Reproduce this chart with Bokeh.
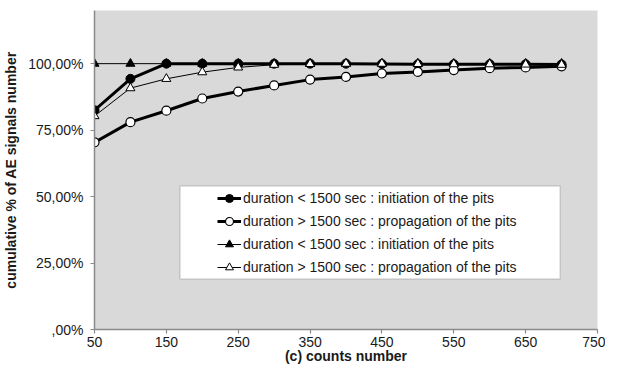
from bokeh.plotting import figure
from bokeh.models import Range1d, FixedTicker, Legend, LegendItem, BoxAnnotation
from bokeh.embed import file_html
from bokeh.resources import INLINE

counts = [50, 100, 150, 200, 250, 300, 350, 400, 450, 500, 550, 600, 650, 700]
init_circle = [0.825, 0.943, 1.0, 1.0, 1.0, 1.0, 1.0, 1.0, 0.999, 0.998, 0.998, 0.998, 0.998, 0.997]
prop_circle = [0.704, 0.780, 0.823, 0.869, 0.895, 0.918, 0.940, 0.950, 0.963, 0.969, 0.976, 0.983, 0.986, 0.990]
init_tri = [1.0, 1.0, 1.0, 1.0, 1.0, 1.0, 1.0, 1.0, 1.0, 1.0, 1.0, 1.0, 1.0, 1.0]
prop_tri = [0.803, 0.908, 0.943, 0.968, 0.986, 0.996, 0.999, 1.0, 1.0, 0.999, 0.998, 0.998, 0.997, 0.996]

labels = [
    "duration < 1500 sec : initiation of the pits",
    "duration > 1500 sec : propagation of the pits",
    "duration < 1500 sec : initiation of the pits",
    "duration > 1500 sec : propagation of the pits",
]

x_ticks = [50, 150, 250, 350, 450, 550, 650, 750]
y_ticks = [0, 0.25, 0.5, 0.75, 1.0]
y_tick_labels = [",00%", "25,00%", "50,00%", "75,00%", "100,00%"]

FONT = "Liberation Sans"

p = figure(width=605, height=366, output_backend="svg", toolbar_location=None,
           x_range=Range1d(50, 750), y_range=Range1d(0, 1.2),
           min_border_left=94, min_border_right=8, min_border_top=10, min_border_bottom=36)

p.background_fill_color = "#d9d9d9"
p.border_fill_color = "white"
p.outline_line_color = None
p.xgrid.visible = False
p.ygrid.visible = False

for ax in (p.xaxis[0], p.yaxis[0]):
    ax.axis_line_color = "#8a8a8a"
    ax.axis_line_width = 1.5
    ax.major_tick_line_color = "#8a8a8a"
    ax.major_tick_line_width = 1.2
    ax.major_tick_out = 4
    ax.major_tick_in = 0
    ax.minor_tick_line_color = None
    ax.major_label_text_font = FONT
    ax.major_label_text_font_size = "14px"
    ax.major_label_text_color = "#1a1a1a"
    ax.axis_label_text_font = FONT
    ax.axis_label_text_font_size = "14px"
    ax.axis_label_text_font_style = "bold"
    ax.axis_label_text_color = "#1a1a1a"

p.xaxis.ticker = FixedTicker(ticks=x_ticks)
p.yaxis.ticker = FixedTicker(ticks=y_ticks)
p.yaxis.major_label_overrides = {t: l for t, l in zip(y_ticks, y_tick_labels)}
p.xaxis.axis_label = "(c) counts number"
p.yaxis.axis_label = "cumulative % of AE signals number"
p.xaxis.major_label_standoff = 3
p.xaxis.axis_label_standoff = -2
p.yaxis.major_label_standoff = 7
p.yaxis.axis_label_standoff = 6

l1 = p.line(counts, init_circle, line_color="black", line_width=3)
s1 = p.scatter(counts, init_circle, marker="circle", size=9, fill_color="black", line_color="black")
l2 = p.line(counts, prop_circle, line_color="black", line_width=3)
s2 = p.scatter(counts, prop_circle, marker="circle", size=9, fill_color="white", line_color="black", line_width=1.2)
l3 = p.line(counts, init_tri, line_color="black", line_width=1)
s3 = p.scatter(counts, init_tri, marker="triangle", size=9, fill_color="black", line_color="black")
l4 = p.line(counts, prop_tri, line_color="black", line_width=1)
s4 = p.scatter(counts, prop_tri, marker="triangle", size=9, fill_color="white", line_color="black", line_width=1)

box = BoxAnnotation(left=169.0, right=698.0, bottom=0.19, top=0.54,
                    fill_color="white", fill_alpha=1.0,
                    line_color="#808080", line_width=1.5)
p.add_layout(box)

legend = Legend(items=[
    LegendItem(label=labels[0], renderers=[l1, s1]),
    LegendItem(label=labels[1], renderers=[l2, s2]),
    LegendItem(label=labels[2], renderers=[l3, s3]),
    LegendItem(label=labels[3], renderers=[l4, s4]),
], location=(123, 52))
legend.border_line_color = None
legend.background_fill_alpha = 0
legend.padding = 0
legend.margin = 0
legend.spacing = 3
legend.label_height = 20
legend.glyph_height = 20
legend.glyph_width = 24
legend.label_standoff = 2
legend.label_text_font = FONT
legend.label_text_font_size = "14px"
legend.label_text_color = "#1a1a1a"
p.add_layout(legend)

open("out.html", "w").write(file_html(p, INLINE))
